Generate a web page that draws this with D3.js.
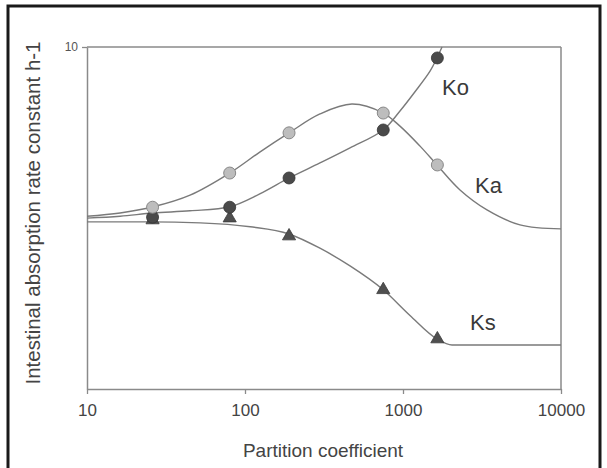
<!DOCTYPE html>
<html>
<head>
<meta charset="utf-8">
<script src="https://cdn.jsdelivr.net/npm/d3@7"></script>
<style>
  html, body { margin: 0; padding: 0; background: #fff; }
  svg { display: block; }
</style>
</head>
<body>
<svg id="chart" width="607" height="468"></svg>
<script>
// Measured rate constants (h-1) against partition coefficient
const partition = [26, 80, 190, 750, 1650];
const kaValues = [3.40, 4.28, 5.61, 6.41, 4.52];
const koValues = [3.18, 3.40, 4.14, 5.72, 9.29];
const ksValues = [3.12, 3.16, 2.80, 1.95, 1.40];

// Fitted model curves
const kaCurveX = [10, 16.2, 26.2, 44.9, 80, 124, 190, 298, 475, 750, 957, 1282, 1641, 2295, 3400, 5500, 10000];
const kaCurveY = [3.20, 3.27, 3.41, 3.69, 4.28, 4.93, 5.61, 6.37, 6.81, 6.41, 5.87, 5.13, 4.52, 3.82, 3.34, 3.02, 2.94];
const koCurveX = [10, 16.2, 26.2, 44.9, 80, 124, 190, 298, 462, 750, 957, 1191, 1483, 1641, 1766];
const koCurveY = [3.16, 3.20, 3.27, 3.32, 3.41, 3.72, 4.14, 4.58, 5.07, 5.72, 6.50, 7.40, 8.50, 9.29, 10];
const ksCurveX = [10, 25, 52, 108, 190, 298, 462, 750, 1107, 1641, 2042, 2600, 10000];
const ksCurveY = [3.08, 3.08, 3.06, 2.98, 2.84, 2.58, 2.29, 1.95, 1.64, 1.40, 1.345, 1.345, 1.345];

const xTicks = [10, 100, 1000, 10000];
const yTicks = [10];
const curveLabels = ["Ko", "Ka", "Ks"];

const svg = d3.select("#chart");
const font = "'Liberation Sans', Arial, sans-serif";

// outer frame
svg.append("path")
  .attr("d", "M8,470 L8,6 L600,6 L600,470")
  .attr("fill", "none").attr("stroke", "#1a1a1a").attr("stroke-width", 3);

const plotLeft = 87, plotRight = 561, plotTop = 47, plotBottom = 389;
const x = d3.scaleLog().domain([10, 10000]).range([plotLeft, plotRight]);
const y = d3.scaleLog().domain([1, 10]).range([plotBottom, plotTop]);

const axisColor = "#8a8a8a";

// plot frame (top and right)
svg.append("line").attr("x1", plotLeft).attr("x2", plotRight).attr("y1", plotTop).attr("y2", plotTop)
  .attr("stroke", axisColor).attr("stroke-width", 1.5);
svg.append("line").attr("x1", plotRight).attr("x2", plotRight).attr("y1", plotTop).attr("y2", plotBottom)
  .attr("stroke", axisColor).attr("stroke-width", 1.5);

// x axis
const gx = svg.append("g").attr("transform", `translate(0,${plotBottom})`)
  .call(d3.axisBottom(x).tickValues(xTicks).tickFormat(d3.format("d")).tickSize(5).tickSizeOuter(0).tickPadding(10));
gx.select(".domain").attr("stroke", axisColor).attr("stroke-width", 1.5);
gx.selectAll(".tick line").attr("stroke", axisColor).attr("stroke-width", 1.3);
gx.selectAll(".tick text").attr("fill", "#444").attr("font-family", font).attr("font-size", 17);

// y axis
const gy = svg.append("g").attr("transform", `translate(${plotLeft},0)`)
  .call(d3.axisLeft(y).tickValues(yTicks).tickFormat(d3.format("d")).tickSize(5).tickSizeOuter(0).tickPadding(4));
gy.select(".domain").attr("stroke", axisColor).attr("stroke-width", 1.5);
gy.selectAll(".tick line").attr("stroke", axisColor).attr("stroke-width", 1.3);
gy.selectAll(".tick text").attr("fill", "#555").attr("font-family", font).attr("font-size", 12);

// axis titles
svg.append("text")
  .attr("x", 323).attr("y", 457)
  .attr("text-anchor", "middle")
  .attr("font-family", font).attr("font-size", 19).attr("fill", "#444")
  .text("Partition coefficient");
svg.append("text")
  .attr("transform", "translate(40,213) rotate(-90)")
  .attr("text-anchor", "middle")
  .attr("font-family", font).attr("font-size", 20.5).attr("fill", "#444")
  .text("Intestinal absorption rate constant h-1");

// fitted curves
const smooth = d3.line().x(d => x(d[0])).y(d => y(d[1])).curve(d3.curveCatmullRom.alpha(0.5));
const monotone = d3.line().x(d => x(d[0])).y(d => y(d[1])).curve(d3.curveMonotoneX);
const curves = [
  [kaCurveX, kaCurveY, smooth],
  [koCurveX, koCurveY, smooth],
  [ksCurveX, ksCurveY, monotone]
];
curves.forEach(([cx, cy, gen]) => {
  svg.append("path")
    .datum(cx.map((v, i) => [v, cy[i]]))
    .attr("d", gen)
    .attr("fill", "none").attr("stroke", "#7a7a7a").attr("stroke-width", 1.4);
});

// markers
const tri = d3.symbol().type(d3.symbolTriangle).size(75);
svg.append("g").selectAll("path")
  .data(partition.map((v, i) => [v, ksValues[i]]))
  .join("path")
  .attr("d", tri)
  .attr("transform", d => `translate(${x(d[0])},${y(d[1])})`)
  .attr("fill", "#4f4f4f").attr("stroke", "#3a3a3a").attr("stroke-width", 0.8);

svg.append("g").selectAll("circle")
  .data(partition.map((v, i) => [v, koValues[i]]))
  .join("circle")
  .attr("cx", d => x(d[0])).attr("cy", d => y(d[1])).attr("r", 6)
  .attr("fill", "#4a4a4a").attr("stroke", "#333").attr("stroke-width", 0.8);

svg.append("g").selectAll("circle")
  .data(partition.map((v, i) => [v, kaValues[i]]))
  .join("circle")
  .attr("cx", d => x(d[0])).attr("cy", d => y(d[1])).attr("r", 6)
  .attr("fill", "#bdbdbd").attr("stroke", "#888").attr("stroke-width", 1);

// curve names
const labelPos = [[442, 95], [475, 193], [470, 330]];
curveLabels.forEach((t, i) => {
  svg.append("text")
    .attr("x", labelPos[i][0]).attr("y", labelPos[i][1])
    .attr("font-family", font).attr("font-size", 22).attr("fill", "#3a3a3a")
    .text(t);
});
</script>
</body>
</html>
